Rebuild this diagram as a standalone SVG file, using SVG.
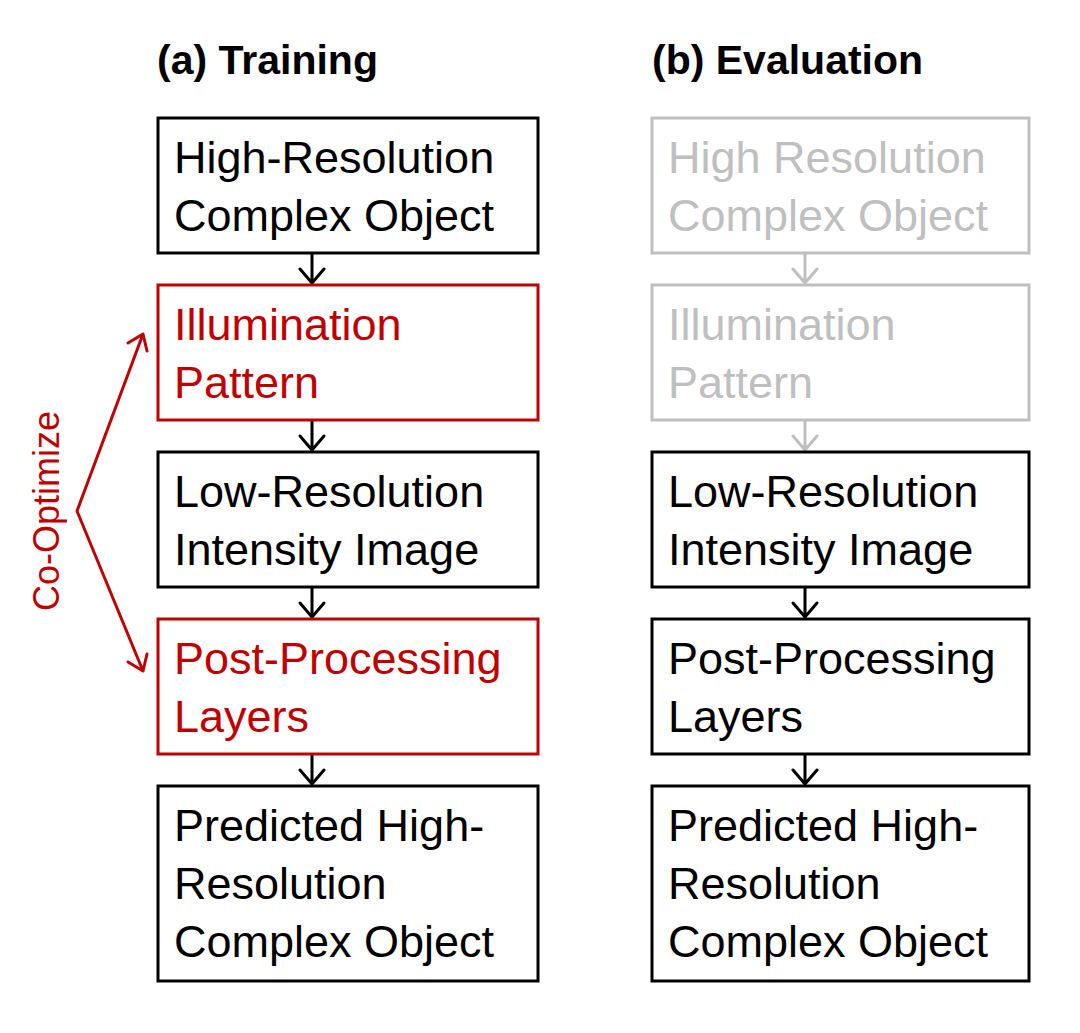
<svg xmlns="http://www.w3.org/2000/svg" width="1080" height="1033" viewBox="0 0 1080 1033">
<style>
.box{fill:#fff;stroke-width:3}
.blk{stroke:#000}
.red{stroke:#C00000}
.gry{stroke:#BFBFBF}
.t{font-family:"Liberation Sans",Arial,sans-serif;font-size:45px}
.tb{fill:#000}
.tr{fill:#C00000}
.tg{fill:#BFBFBF}
.title{font-family:"Liberation Sans",Arial,sans-serif;font-size:41px;font-weight:bold;fill:#000}
.con{fill:none;stroke-width:3;stroke-linecap:round;stroke-linejoin:round}
</style>
<rect width="1080" height="1033" fill="#fff"/>
<text class="title" x="157" y="74">(a) Training</text>
<text class="title" x="652" y="74">(b) Evaluation</text>
<g id="connectors">
<path class="con blk" d="M312 253V283M300 269L312 283L324 269"/>
<path class="con blk" d="M312 420V450M300 436L312 450L324 436"/>
<path class="con blk" d="M312 587V617M300 603L312 617L324 603"/>
<path class="con blk" d="M312 754V784M300 770L312 784L324 770"/>
<path class="con gry" d="M805 253V283M793 269L805 283L817 269"/>
<path class="con gry" d="M805 420V450M793 436L805 450L817 436"/>
<path class="con blk" d="M805 587V617M793 603L805 617L817 603"/>
<path class="con blk" d="M805 754V784M793 770L805 784L817 770"/>
<path class="con red" d="M143 334L77 511L143 671M128 343L143 334L147 351M128 662L143 671L147 654"/>
</g>
<g id="cooptimize">
<text class="t tr" style="font-size:36px" transform="translate(59 511) rotate(-90)" text-anchor="middle">Co-Optimize</text>
</g>
<g id="a1"><rect class="box blk" x="158" y="118" width="380" height="135"/><text class="t tb" x="174" y="173">High-Resolution</text><text class="t tb" x="174" y="231">Complex Object</text></g>
<g id="a2"><rect class="box red" x="158" y="285" width="380" height="135"/><text class="t tr" x="174" y="340">Illumination</text><text class="t tr" x="174" y="398">Pattern</text></g>
<g id="a3"><rect class="box blk" x="158" y="452" width="380" height="135"/><text class="t tb" x="174" y="507">Low-Resolution</text><text class="t tb" x="174" y="565">Intensity Image</text></g>
<g id="a4"><rect class="box red" x="158" y="619" width="380" height="135"/><text class="t tr" x="174" y="674">Post-Processing</text><text class="t tr" x="174" y="732">Layers</text></g>
<g id="a5"><rect class="box blk" x="158" y="786" width="380" height="195"/><text class="t tb" x="174" y="841">Predicted High-</text><text class="t tb" x="174" y="899">Resolution</text><text class="t tb" x="174" y="957">Complex Object</text></g>
<g id="b1"><rect class="box gry" x="652" y="118" width="377" height="135"/><text class="t tg" x="668" y="173">High Resolution</text><text class="t tg" x="668" y="231">Complex Object</text></g>
<g id="b2"><rect class="box gry" x="652" y="285" width="377" height="135"/><text class="t tg" x="668" y="340">Illumination</text><text class="t tg" x="668" y="398">Pattern</text></g>
<g id="b3"><rect class="box blk" x="652" y="452" width="377" height="135"/><text class="t tb" x="668" y="507">Low-Resolution</text><text class="t tb" x="668" y="565">Intensity Image</text></g>
<g id="b4"><rect class="box blk" x="652" y="619" width="377" height="135"/><text class="t tb" x="668" y="674">Post-Processing</text><text class="t tb" x="668" y="732">Layers</text></g>
<g id="b5"><rect class="box blk" x="652" y="786" width="377" height="195"/><text class="t tb" x="668" y="841">Predicted High-</text><text class="t tb" x="668" y="899">Resolution</text><text class="t tb" x="668" y="957">Complex Object</text></g>
</svg>
